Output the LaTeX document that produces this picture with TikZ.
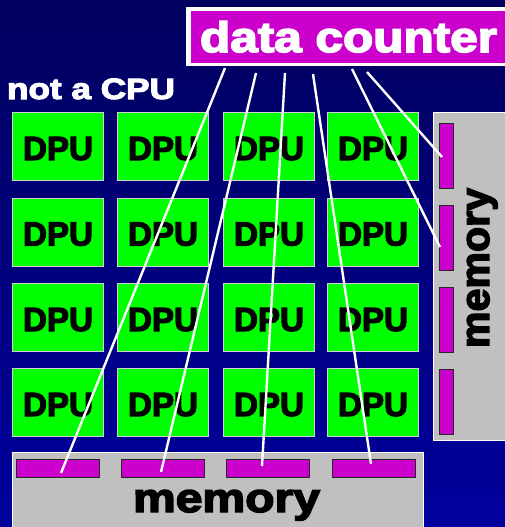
\documentclass[tikz,border=0pt]{standalone}
\usepackage{fontspec}
\setmainfont{Liberation Sans}
\newfontfamily\heavy{Liberation Sans Bold}[FakeBold=3.5]
\usepackage{graphicx}
\definecolor{bgtop}{RGB}{0,0,94}
\definecolor{bgbot}{RGB}{0,0,158}
\definecolor{mag}{RGB}{204,0,204}
\definecolor{dpugreen}{RGB}{0,255,0}
\definecolor{memgray}{RGB}{192,192,192}
\definecolor{dpuedge}{RGB}{210,210,210}
\tikzset{
  dpubox/.style={draw=dpuedge, line width=0.9pt, fill=dpugreen, minimum width=91pt, minimum height=68pt, inner sep=0pt},
  memblock/.style={draw=white, line width=1pt, fill=memgray},
  slot/.style={draw=black!85, line width=0.9pt, fill=mag, inner sep=0pt},
  hslot/.style={slot, minimum width=83pt, minimum height=18pt},
  vslot/.style={slot, minimum width=14pt, minimum height=65pt},
  wire/.style={draw=white, line width=2.4pt},
  plain/.style={inner sep=0pt, outer sep=0pt}
}
\begin{document}
\begin{tikzpicture}[x=1pt,y=-1pt]
\useasboundingbox (0,0) rectangle (505,527);
% background
\shade[top color=bgtop, bottom color=bgbot] (0,0) rectangle (505,527);
% data counter
\node[plain, fill=white, minimum width=320pt, minimum height=59pt, anchor=north west] (dcframe) at (186,7) {};
\node[plain, fill=mag, minimum width=316pt, minimum height=52pt, anchor=north west] (dc) at (191,11) {};
\node[plain, anchor=base west, text=white] (dctext) at (200,52) {\resizebox{297pt}{31pt}{\heavy data counter}};
% not a CPU
\node[plain, anchor=base west, text=white] (cpu) at (7,99) {\resizebox{168pt}{20.5pt}{\heavy not a CPU}};
% DPUs
\foreach \c/\x in {1/58,2/163,3/269,4/373}
  \foreach \r/\y in {1/146.5,2/232,3/317.5,4/402.5}
    \node[dpubox] (d\r\c) at (\x,\y) {\raisebox{0pt}[27pt][0pt]{\resizebox{70pt}{23pt}{\heavy DPU}}};
% bottom memory
\path[memblock] (12,452) rectangle (423,535);
\node[plain, anchor=base west] (membot) at (133,512) {\resizebox{187pt}{22pt}{\heavy memory}};
\node[hslot] (b1) at (57.5,468) {};
\node[hslot] (b2) at (163,468) {};
\node[hslot] (b3) at (268,468) {};
\node[hslot] (b4) at (374,468) {};
% right memory
\path[memblock] (433,112) rectangle (515,440);
\node[plain, anchor=base west, rotate=90] (memright) at (489,348) {\resizebox{160pt}{22pt}{\heavy memory}};
\node[vslot] (r1) at (446,155.5) {};
\node[vslot] (r2) at (446,237.5) {};
\node[vslot] (r3) at (446,319.5) {};
\node[vslot] (r4) at (446,401.5) {};
% wire ends
\coordinate (s1) at (225,68);
\coordinate (s2) at (256,73);
\coordinate (s3) at (285,73);
\coordinate (s4) at (313,74);
\coordinate (s5) at (352,69);
\coordinate (s6) at (367,72);
\coordinate (e1) at (61,473);
\coordinate (e2) at (161,472);
\coordinate (e3) at (262,466);
\coordinate (e4) at (371,464);
\coordinate (e5) at (440,247);
\coordinate (e6) at (442,157);
\draw[wire] (s1) -- (e1);
\draw[wire] (s2) -- (e2);
\draw[wire] (s3) -- (e3);
\draw[wire] (s4) -- (e4);
\draw[wire] (s5) -- (e5);
\draw[wire] (s6) -- (e6);
\end{tikzpicture}
\end{document}
